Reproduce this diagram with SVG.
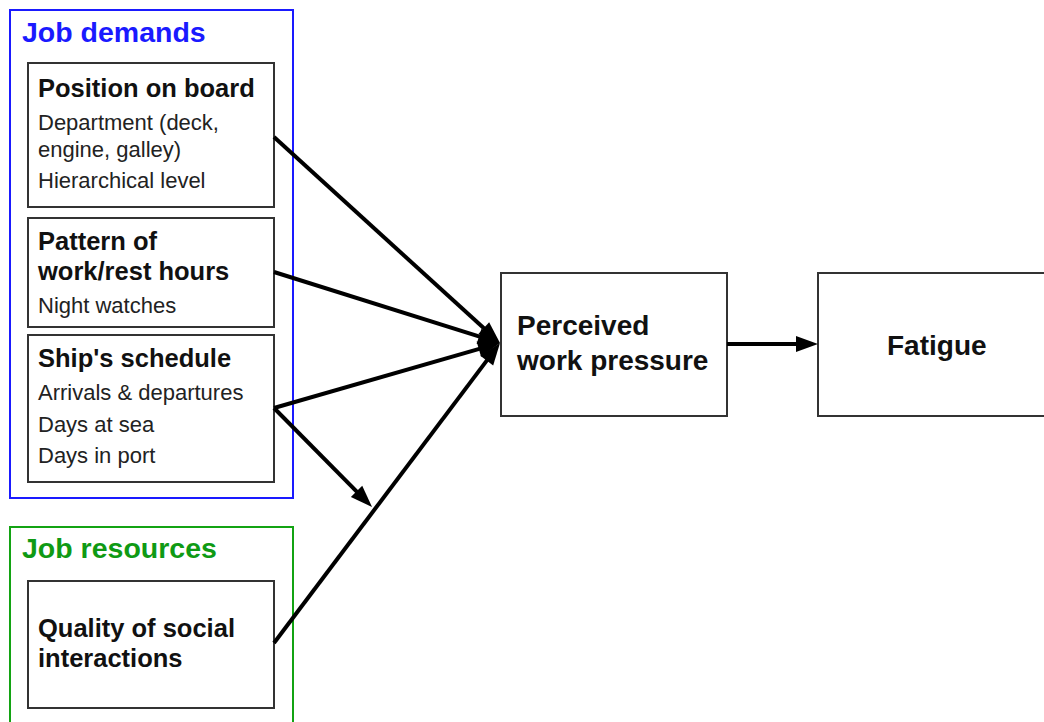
<svg xmlns="http://www.w3.org/2000/svg" width="1044" height="722" viewBox="0 0 1044 722">
<style>
.box{fill:#fff;stroke:#333;stroke-width:2}
.t{font-family:"Liberation Sans",Arial,sans-serif;fill:#111}
.h{font-size:25.5px;font-weight:bold}
.s{font-size:22px;fill:#222}
.big{font-size:28.5px;font-weight:bold}
.c{fill:none;stroke:#000;stroke-width:4}
</style>
<defs>
<marker id="ah" markerUnits="userSpaceOnUse" markerWidth="22" markerHeight="16" refX="14" refY="8" orient="auto" overflow="visible">
<path d="M0,0 L22,8 L0,16 z" fill="#000"/>
</marker>
</defs>
<rect width="1044" height="722" fill="#fff"/>
<g id="job-demands">
<rect x="10" y="10" width="283" height="488" fill="none" stroke="#1a1aff" stroke-width="2"/>
<text class="t big" x="22" y="42" fill="#1a1aff" style="fill:#1a1aff">Job demands</text>
</g>
<g id="position">
<rect class="box" x="28" y="63" width="246" height="144"/>
<text class="t h" x="38" y="97">Position on board</text>
<text class="t s" x="38" y="130">Department (deck,</text>
<text class="t s" x="38" y="157">engine, galley)</text>
<text class="t s" x="38" y="188">Hierarchical level</text>
</g>
<g id="pattern">
<rect class="box" x="28" y="218" width="246" height="109"/>
<text class="t h" x="38" y="250">Pattern of</text>
<text class="t h" x="38" y="280">work/rest hours</text>
<text class="t s" x="38" y="313">Night watches</text>
</g>
<g id="schedule">
<rect class="box" x="28" y="335" width="246" height="147"/>
<text class="t h" x="38" y="367">Ship's schedule</text>
<text class="t s" x="38" y="400">Arrivals &amp; departures</text>
<text class="t s" x="38" y="432">Days at sea</text>
<text class="t s" x="38" y="463">Days in port</text>
</g>
<g id="job-resources">
<rect x="10" y="527" width="283" height="220" fill="none" stroke="#13a313" stroke-width="2"/>
<text class="t big" x="22" y="558" style="fill:#0f9a14">Job resources</text>
</g>
<g id="quality">
<rect class="box" x="28" y="581" width="246" height="127"/>
<text class="t h" x="38" y="637">Quality of social</text>
<text class="t h" x="38" y="667">interactions</text>
</g>
<g id="perceived">
<rect class="box" x="501" y="273" width="226" height="143"/>
<text class="t big" x="517" y="335" style="font-size:28px">Perceived</text>
<text class="t big" x="517" y="370" style="font-size:28px">work pressure</text>
</g>
<g id="fatigue">
<rect class="box" x="818" y="273" width="240" height="143"/>
<text class="t big" x="887" y="355" style="font-size:28px">Fatigue</text>
</g>
<g id="connectors">
<line class="c" x1="274" y1="137" x2="494.1" y2="337.6" marker-end="url(#ah)"/>
<line class="c" x1="274" y1="272" x2="492.4" y2="340.6" marker-end="url(#ah)"/>
<line class="c" x1="274" y1="408" x2="492.3" y2="345.2" marker-end="url(#ah)"/>
<line class="c" x1="274" y1="643" x2="495.2" y2="349.4" marker-end="url(#ah)"/>
<line class="c" x1="274" y1="408" x2="366.4" y2="501.3" marker-end="url(#ah)"/>
<line class="c" x1="727" y1="344" x2="810" y2="344" marker-end="url(#ah)"/>
</g>
</svg>
